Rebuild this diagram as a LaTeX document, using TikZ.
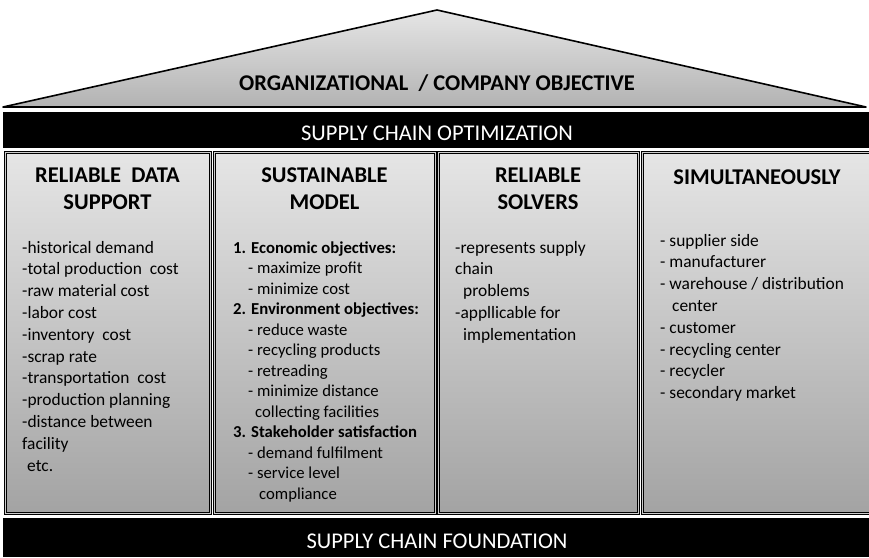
\documentclass[tikz,border=0pt]{standalone}
\usepackage{fontspec}
\setmainfont{Carlito}
\begin{document}
\begin{tikzpicture}[x=1pt, y=-1pt]
    \useasboundingbox (0,0) rectangle (869,557);

    % Define styles
    \tikzstyle{roofshape}=[draw=black, line width=1.6pt, line join=round, top color=black!10, bottom color=black!30]
    \tikzstyle{bar}=[fill=black]
    \tikzstyle{bartext}=[text=white, inner sep=0pt, font=\fontsize{22.5}{26}\selectfont]
    \tikzstyle{pillar}=[draw=black, line width=1pt, double=black!20, double distance=1pt, top color=black!10, bottom color=black!36]
    \tikzstyle{head}=[align=center, inner sep=0pt, font=\bfseries\fontsize{22.5}{27}\selectfont]
    \tikzstyle{item}=[align=left, anchor=north west, inner sep=0pt, font=\fontsize{17.4}{21.8}\selectfont]

    % roof and optimization beam
    \draw[roofshape] (3,107) -- (437,10) -- (866,107) -- cycle;
    \node[head] (goal) at (437,83) {ORGANIZATIONAL~ / COMPANY OBJECTIVE};
    \fill[bar] (3,112) rectangle (869,148);
    \node[bartext] (optim) at (437,133) {SUPPLY CHAIN OPTIMIZATION};

    % the four pillars
    \draw[pillar] (5,152) rectangle (210,513);
    \draw[pillar] (214,152) rectangle (435,513);
    \draw[pillar] (438,152) rectangle (638,513);
    \draw[pillar] (642,152) rectangle (872,513);

    \node[head] (datahead) at (107.5,188.5) {RELIABLE~ DATA\\SUPPORT};
    \node[head] (modelhead) at (324.5,188.5) {SUSTAINABLE\\MODEL};
    \node[head] (solverhead) at (538,188.5) {RELIABLE\\SOLVERS};
    \node[head] (simhead) at (757,177) {SIMULTANEOUSLY};

    \node[item] (datalist) at (22,237.7) {\strut-historical demand\\
        -total production~ cost\\
        -raw material cost\\
        -labor cost\\
        -inventory~ cost\\
        -scrap rate\\
        -transportation~ cost\\
        -production planning\\
        -distance between\\
        facility\\
        \hspace*{5pt}etc.};

    \node[item, font=\fontsize{16.7}{20.5}\selectfont] (modellist) at (233,238.5) {\strut\textbf{1. Economic objectives:}\\
        \hspace*{15pt}- maximize profit\\
        \hspace*{15pt}- minimize cost\\
        \textbf{2. Environment objectives:}\\
        \hspace*{15pt}- reduce waste\\
        \hspace*{15pt}- recycling products\\
        \hspace*{15pt}- retreading\\
        \hspace*{15pt}- minimize distance\\
        \hspace*{22pt}collecting facilities\\
        \textbf{3. Stakeholder satisfaction}\\
        \hspace*{15pt}- demand fulfilment\\
        \hspace*{15pt}- service level\\
        \hspace*{26pt}compliance};

    \node[item] (solverlist) at (455,237.7) {\strut-represents supply\\
        chain\\
        \hspace*{8pt}problems\\
        -appllicable for\\
        \hspace*{8pt}implementation};

    \node[item] (simlist) at (660,230.7) {\strut- supplier side\\
        - manufacturer\\
        - warehouse / distribution\\
        \hspace*{12pt}center\\
        - customer\\
        - recycling center\\
        - recycler\\
        - secondary market};

    % foundation beam
    \fill[bar] (3,518) rectangle (869,557);
    \node[bartext] (found) at (437,541) {SUPPLY CHAIN FOUNDATION};
\end{tikzpicture}
\end{document}
